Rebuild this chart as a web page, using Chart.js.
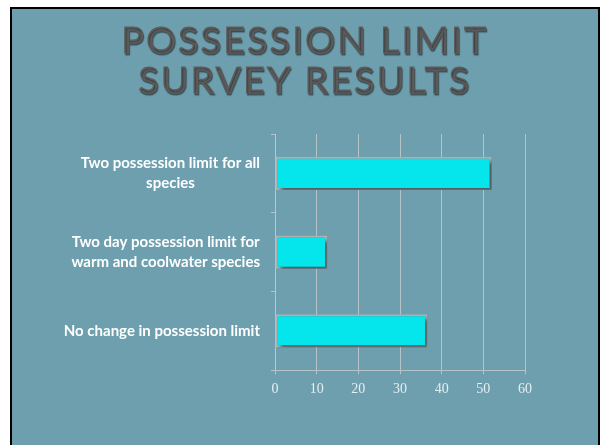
<!DOCTYPE html>
<html>
<head>
<meta charset="utf-8">
<script src="https://cdn.jsdelivr.net/npm/chart.js@4.4.0/dist/chart.umd.min.js"></script>
<style>
  html, body { margin: 0; padding: 0; background: #fff; }
  #slide {
    position: absolute; left: 10px; top: 7px; width: 586px; height: 440px;
    border: 2px solid #000; border-bottom: none;
    background: rgb(109, 159, 175);
  }
  #wrap { position: absolute; left: 0; top: 0; width: 600px; height: 445px; }
</style>
</head>
<body>
<div id="slide"></div>
<div id="wrap"><canvas id="chart"></canvas></div>
<script>
const categories = [
    ['Two possession limit for all', 'species'],
    ['Two day possession limit for', 'warm and coolwater species'],
    ['No change in possession limit']
];
const responses = [52, 12.5, 36.5];
const titleLines = ['POSSESSION LIMIT', 'SURVEY RESULTS'];

const lineColor = 'rgba(190, 198, 202, 0.9)';

// soft shadow under the bars
const barShadow = {
    id: 'barShadow',
    beforeDatasetsDraw(chart) {
        const c = chart.ctx;
        c.save();
        c.shadowColor = 'rgba(25, 45, 55, 0.7)';
        c.shadowBlur = 4;
        c.shadowOffsetX = 3;
        c.shadowOffsetY = 3;
    },
    afterDatasetsDraw(chart) {
        chart.ctx.restore();
    }
};

// slide title, centred on the slide with a little emboss
const slideTitle = {
    id: 'slideTitle',
    afterDraw(chart) {
        const c = chart.ctx;
        c.save();
        c.font = '37px Lato';
        c.letterSpacing = '2.5px';
        c.textAlign = 'center';
        c.textBaseline = 'alphabetic';
        c.fillStyle = '#5c5c5c';
        c.strokeStyle = '#5c5c5c';
        c.lineWidth = 1.2;
        c.shadowColor = 'rgba(30, 30, 30, 0.5)';
        c.shadowBlur = 1;
        c.shadowOffsetX = 1;
        c.shadowOffsetY = 1.5;
        titleLines.forEach((t, i) => {
            c.fillText(t, 305, 53 + i * 40);
            c.strokeText(t, 305, 53 + i * 40);
        });
        c.restore();
    }
};

// category labels: block sits right, lines centred inside the block
const categoryLabels = {
    id: 'categoryLabels',
    afterDraw(chart) {
        const s = chart.scales.y;
        const c = chart.ctx;
        const lh = 19.5;
        c.save();
        c.font = 'bold 15px Lato';
        c.fillStyle = '#ffffff';
        c.textAlign = 'center';
        c.textBaseline = 'middle';
        categories.forEach((lines, i) => {
            const y = s.getPixelForTick(i);
            const widest = Math.max(...lines.map(l => c.measureText(l).width));
            const cx = s.right - s.options.grid.tickLength - 11 - widest / 2;
            lines.forEach((l, j) => {
                c.fillText(l, cx, y + (j - (lines.length - 1) / 2) * lh);
            });
        });
        c.restore();
    }
};

new Chart(document.getElementById('chart'), {
    type: 'bar',
    data: {
        labels: categories,
        datasets: [{
            data: responses,
            backgroundColor: '#05e6ec',
            borderColor: '#b3b3b3',
            borderWidth: 2,
            borderSkipped: false,
            categoryPercentage: 1,
            barPercentage: 0.42
        }]
    },
    options: {
        indexAxis: 'y',
        responsive: true,
        maintainAspectRatio: false,
        animation: false,
        layout: { padding: { top: 134, right: 75, bottom: 40, left: 0 } },
        plugins: {
            legend: { display: false },
            tooltip: { enabled: false },
            title: { display: false }
        },
        scales: {
            x: {
                min: 0,
                max: 60,
                ticks: {
                    stepSize: 10,
                    color: '#e6eef0',
                    padding: 7,
                    font: { family: 'Liberation Serif', size: 14 }
                },
                grid: { color: lineColor, tickLength: 4 },
                border: { color: lineColor }
            },
            y: {
                afterFit(scale) { scale.width = 275; },
                ticks: { display: false },
                grid: { drawOnChartArea: false, color: lineColor, tickLength: 4, offset: true },
                border: { color: lineColor }
            }
        }
    },
    plugins: [barShadow, slideTitle, categoryLabels]
});
</script>
</body>
</html>
